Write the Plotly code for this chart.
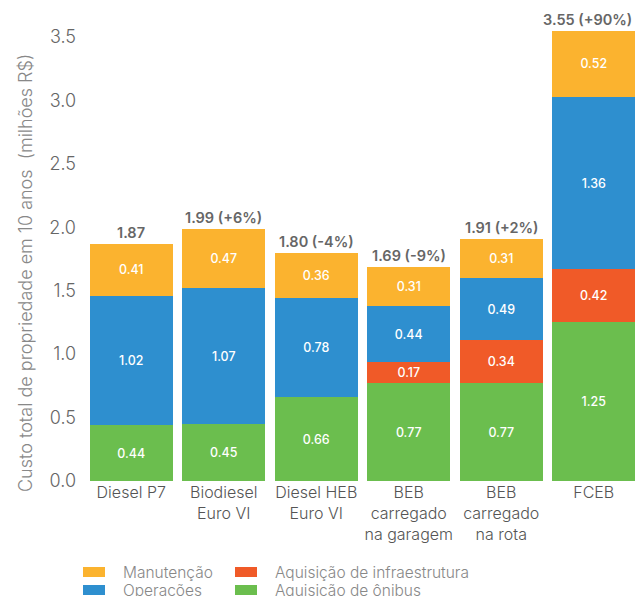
import plotly.graph_objects as go

categories = ["Diesel P7", "Biodiesel<br>Euro VI", "Diesel HEB<br>Euro VI",
              "BEB<br>carregado<br>na garagem", "BEB<br>carregado<br>na rota", "FCEB"]
onibus = [0.44, 0.45, 0.66, 0.77, 0.77, 1.25]
infra = [0.0, 0.0, 0.0, 0.17, 0.34, 0.42]
operacoes = [1.02, 1.07, 0.78, 0.44, 0.49, 1.36]
manutencao = [0.41, 0.47, 0.36, 0.31, 0.31, 0.52]
totals = [1.87, 1.99, 1.80, 1.69, 1.91, 3.55]
total_labels = ["1.87", "1.99 (+6%)", "1.80 (-4%)", "1.69 (-9%)", "1.91 (+2%)", "3.55 (+90%)"]
y_ticks = [0.0, 0.5, 1.0, 1.5, 2.0, 2.5, 3.0, 3.5]

FONT = "Inter"
W, H = 640, 596
ML, MR, MT, MB = 85, 0, 18, 115
PW, PH = W - ML - MR, H - MT - MB

series = [
    ("Aquisição de ônibus", onibus, "#6BBE4E"),
    ("Aquisição de infraestrutura", infra, "#F05A28"),
    ("Operações", operacoes, "#2E8FCF"),
    ("Manutenção", manutencao, "#FBB32F"),
]

fig = go.Figure()
for name, vals, color in series:
    fig.add_trace(go.Bar(
        x=categories, y=vals, name=name, marker=dict(color=color, line=dict(width=0)),
        text=[f"{v:.2f}" if v > 0 else "" for v in vals],
        textposition="inside", insidetextanchor="middle",
        textfont=dict(color="white", size=16, family=FONT, weight=500),
        hoverinfo="skip", showlegend=False,
    ))

for i, (c, t, lab) in enumerate(zip(categories, totals, total_labels)):
    fig.add_annotation(x=c, y=t, text=lab, showarrow=False, yanchor="bottom",
                       yshift=1, xshift=-6 if i == len(categories) - 1 else 0,
                       font=dict(size=14.5, color="#666666", family=FONT, weight=600))

def px(x):
    return (x - ML) / PW
def py(y):
    return (H - MB - y) / PH

fig.add_annotation(xref="paper", yref="paper", x=px(25), y=py(273),
                   text="Custo total de propriedade em 10 anos  (milhões R$)",
                   textangle=-90, showarrow=False, xanchor="center", yanchor="middle",
                   font=dict(size=18, color="#888888", family=FONT, weight=300))

# manual legend (two columns, row-wise)
legend_items = [("Manutenção", "#FBB32F", 83, 572), ("Aquisição de infraestrutura", "#F05A28", 235, 572),
                ("Operações", "#2E8FCF", 83, 590), ("Aquisição de ônibus", "#6BBE4E", 235, 590)]
for name, color, lx, ly in legend_items:
    fig.add_shape(type="rect", xref="paper", yref="paper", x0=px(lx), x1=px(lx + 22),
                  y0=py(ly + 5), y1=py(ly - 5), fillcolor=color, line=dict(width=0))
    fig.add_annotation(xref="paper", yref="paper", x=px(lx + 38), y=py(ly), text=name,
                       showarrow=False, xanchor="left", yanchor="middle",
                       font=dict(size=15.5, color="#888888", family=FONT, weight=300))

fig.update_layout(
    width=W, height=H,
    barmode="stack", bargap=0.1,
    margin=dict(l=ML, r=MR, t=MT, b=MB, autoexpand=False),
    plot_bgcolor="white", paper_bgcolor="white",
    font=dict(family=FONT, color="#555555"),
    uniformtext=dict(mode="show", minsize=10),
    xaxis=dict(tickfont=dict(size=16, color="#555555", weight=300), showgrid=False, showline=False,
               ticks="", automargin=False),
    yaxis=dict(range=[0, 3.65], tickvals=y_ticks, ticktext=[f"{v:.1f}" for v in y_ticks],
               tickfont=dict(size=18, color="#666666", weight=300), showgrid=False, zeroline=False,
               showline=False, ticks="", ticklabelstandoff=8, automargin=False),
    showlegend=False,
)

fig.write_html("out.html", config={"displayModeBar": False},
               post_script="document.body.style.margin='0';document.body.style.overflow='hidden';")
